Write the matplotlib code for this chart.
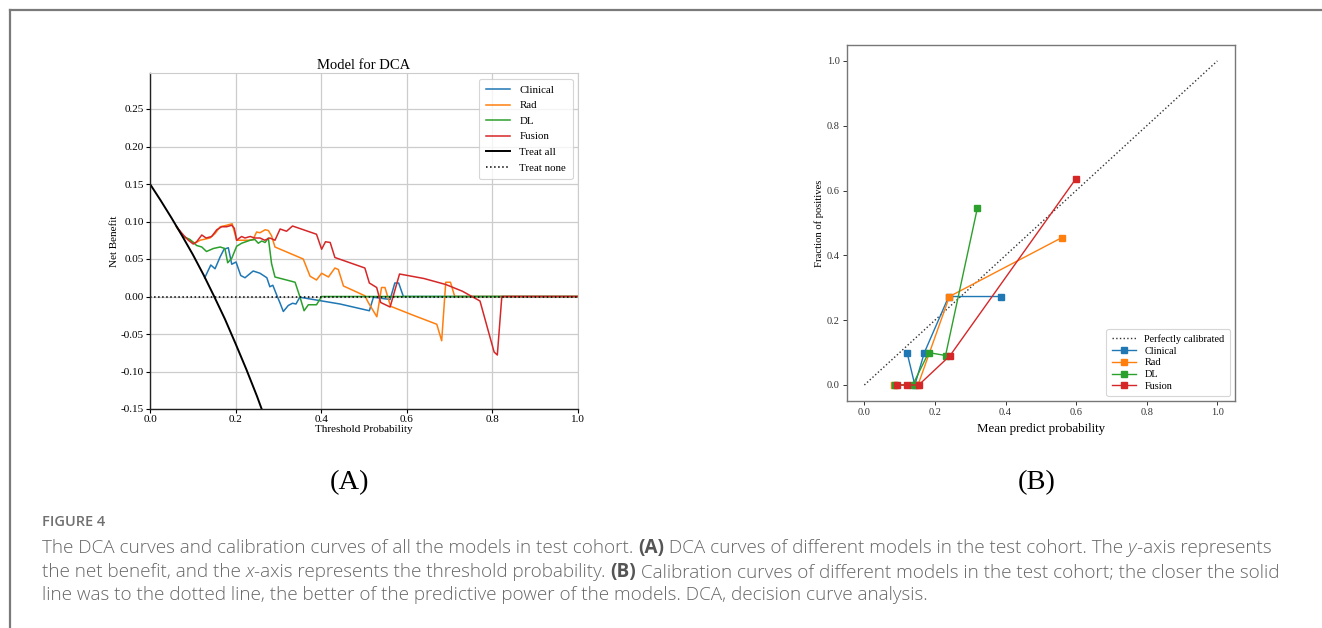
import matplotlib
matplotlib.use("Agg")
import matplotlib.pyplot as plt
from matplotlib.lines import Line2D

W, H = 1322, 628
plt.rcParams['font.family'] = ['Liberation Serif', 'DejaVu Serif']
plt.rcParams['axes.unicode_minus'] = False

# ---------------- DCA data ----------------
clin_x = [0.128, 0.142, 0.152, 0.164, 0.173, 0.183, 0.191, 0.201, 0.212, 0.222, 0.241, 0.257,
          0.273, 0.280, 0.287, 0.296, 0.304, 0.3115, 0.323, 0.333, 0.341, 0.350, 0.444, 0.5125,
          0.522, 0.561, 0.572, 0.581, 0.592, 1.0]
clin_y = [0.025, 0.042, 0.037, 0.053, 0.063, 0.065, 0.043, 0.046, 0.028, 0.025, 0.034, 0.031,
          0.025, 0.013, 0.015, 0.002, -0.009, -0.020, -0.012, -0.009, -0.010, -0.001, -0.010, -0.019,
          -0.001, -0.004, 0.018, 0.018, 0.0, 0.0]

rad_x = [0.062, 0.078, 0.0935, 0.105, 0.117, 0.140, 0.152, 0.164, 0.179, 0.192, 0.2025, 0.230,
         0.241, 0.249, 0.257, 0.269, 0.2765, 0.284, 0.292, 0.358, 0.374, 0.389, 0.401, 0.417,
         0.432, 0.440, 0.452, 0.502, 0.510, 0.530, 0.541, 0.549, 0.562, 0.615, 0.670, 0.6815,
         0.691, 0.702, 0.712, 1.0]
rad_y = [0.093, 0.080, 0.075, 0.071, 0.075, 0.078, 0.084, 0.093, 0.095, 0.097, 0.075, 0.075,
         0.076, 0.086, 0.085, 0.089, 0.088, 0.081, 0.066, 0.050, 0.027, 0.022, 0.031, 0.026,
         0.038, 0.036, 0.014, 0.001, -0.008, -0.027, 0.012, 0.012, -0.013, -0.025, -0.037, -0.059,
         0.019, 0.019, 0.0, 0.0]

dl_x = [0.062, 0.078, 0.0935, 0.109, 0.121, 0.132, 0.148, 0.164, 0.175, 0.1815, 0.191, 0.2025,
        0.214, 0.234, 0.245, 0.253, 0.261, 0.269, 0.2765, 0.284, 0.292, 0.319, 0.339, 0.350,
        0.360, 0.370, 0.389, 0.401, 1.0]
dl_y = [0.093, 0.080, 0.076, 0.068, 0.066, 0.060, 0.064, 0.066, 0.064, 0.045, 0.051, 0.067,
        0.071, 0.075, 0.076, 0.071, 0.074, 0.072, 0.078, 0.044, 0.026, 0.022, 0.019, 0.000,
        -0.019, -0.011, -0.011, 0.000, 0.0]

fus_x = [0.062, 0.078, 0.0896, 0.101, 0.109, 0.121, 0.131, 0.144, 0.156, 0.1675, 0.179, 0.191,
         0.197, 0.2025, 0.214, 0.222, 0.234, 0.245, 0.257, 0.268, 0.280, 0.292, 0.304, 0.319,
         0.333, 0.389, 0.401, 0.410, 0.421, 0.432, 0.502, 0.5125, 0.5296, 0.539, 0.561, 0.583,
         0.640, 0.691, 0.730, 0.752, 0.771, 0.804, 0.8115, 0.822, 1.0]
fus_y = [0.093, 0.082, 0.075, 0.070, 0.073, 0.082, 0.078, 0.080, 0.089, 0.093, 0.093, 0.095,
         0.091, 0.075, 0.080, 0.078, 0.080, 0.078, 0.078, 0.075, 0.078, 0.075, 0.090, 0.087,
         0.094, 0.083, 0.063, 0.073, 0.072, 0.052, 0.038, 0.018, 0.012, -0.008, -0.014, 0.030,
         0.024, 0.016, 0.007, 0.000, -0.006, -0.074, -0.078, 0.0, 0.0]

all_x = [0.0, 0.025, 0.05, 0.075, 0.10, 0.125, 0.15, 0.175, 0.20, 0.225, 0.25, 0.275]
all_y = [0.150, 0.128, 0.105, 0.081, 0.056, 0.029, 0.000, -0.030, -0.063, -0.097, -0.133, -0.172]

none_x = [0.0, 1.0]
none_y = [0.0, 0.0]

# ---------------- Calibration data ----------------
cal_clin_x = [0.121, 0.143, 0.170, 0.239, 0.388]
cal_clin_y = [0.100, 0.000, 0.100, 0.273, 0.273]
cal_rad_x = [0.084, 0.152, 0.241, 0.560]
cal_rad_y = [0.000, 0.000, 0.273, 0.455]
cal_dl_x = [0.087, 0.137, 0.182, 0.230, 0.320]
cal_dl_y = [0.000, 0.000, 0.100, 0.091, 0.545]
cal_fus_x = [0.093, 0.120, 0.154, 0.243, 0.599]
cal_fus_y = [0.000, 0.000, 0.000, 0.091, 0.636]
perfect = [0.0, 1.0]

labels = ['Clinical', 'Rad', 'DL', 'Fusion']
colors = ['#1f77b4', '#ff7f0e', '#2ca02c', '#d62728']

fig = plt.figure(figsize=(W / 100, H / 100), dpi=100)
fig.patch.set_facecolor('white')

def ax_rect(l, t, r, b):
    return [l / W, 1 - b / H, (r - l) / W, (b - t) / H]

# ---------------- Panel A ----------------
axA = fig.add_axes(ax_rect(150, 73.3, 578, 409))
for xs, ys, lab, c in zip([clin_x, rad_x, dl_x, fus_x], [clin_y, rad_y, dl_y, fus_y], labels, colors):
    axA.plot(xs, ys, color=c, lw=1.1, label=lab)
axA.plot(all_x, all_y, color='black', lw=1.4, label='Treat all')
axA.plot(none_x, none_y, color='black', lw=1.1, ls=':', label='Treat none')
axA.set_xlim(0, 1)
axA.set_ylim(-0.15, 0.2976)
axA.set_xticks([0.0, 0.2, 0.4, 0.6, 0.8, 1.0])
axA.set_xticklabels(['0.0', '0.2', '0.4', '0.6', '0.8', '1.0'])
yt = [-0.15, -0.10, -0.05, 0.00, 0.05, 0.10, 0.15, 0.20, 0.25]
axA.set_yticks(yt)
axA.set_yticklabels(['%.2f' % v for v in yt])
axA.grid(True, color='#cccccc', lw=0.9)
axA.set_axisbelow(True)
axA.tick_params(labelsize=8, length=3, width=0.8, pad=1.5)
for s in ['top', 'right']:
    axA.spines[s].set_color('#cccccc')
for s in ['left', 'bottom']:
    axA.spines[s].set_color('#222222')
    axA.spines[s].set_linewidth(1.0)
axA.set_title('Model for DCA', fontsize=10.5, pad=3)
axA.set_xlabel('Threshold Probability', fontsize=8, labelpad=0.5)
axA.set_ylabel('Net Benefit', fontsize=8, labelpad=1)
legA = axA.legend(loc='upper right', fontsize=7.8, frameon=True, fancybox=True,
                  edgecolor='#cccccc', handlelength=2.2, labelspacing=0.55,
                  borderpad=0.6, handletextpad=0.9)
legA.get_frame().set_linewidth(0.8)

# ---------------- Panel B ----------------
axB = fig.add_axes(ax_rect(846.7, 44.7, 1235, 401.2))
axB.plot(perfect, perfect, ls=':', color='#333333', lw=1.0, label='Perfectly calibrated')
for xs, ys, lab, c in zip([cal_clin_x, cal_rad_x, cal_dl_x, cal_fus_x],
                          [cal_clin_y, cal_rad_y, cal_dl_y, cal_fus_y], labels, colors):
    axB.plot(xs, ys, marker='s', ms=3.8, color=c, lw=1.0, label=lab)
axB.set_xlim(-0.05, 1.05)
axB.set_ylim(-0.05, 1.05)
ticks = [0.0, 0.2, 0.4, 0.6, 0.8, 1.0]
axB.set_xticks(ticks)
axB.set_xticklabels(['%.1f' % v for v in ticks])
axB.set_yticks(ticks)
axB.set_yticklabels(['%.1f' % v for v in ticks])
axB.tick_params(labelsize=7.5, length=3, width=0.7, colors='#333333', pad=2)
for s in axB.spines.values():
    s.set_color('#777777')
    s.set_linewidth(1.0)
axB.set_xlabel('Mean predict probability', fontsize=9.3, labelpad=4)
axB.set_ylabel('Fraction of positives', fontsize=7.7, labelpad=2)
legB = axB.legend(loc='lower right', fontsize=7.4, frameon=True, fancybox=True,
                  edgecolor='#cccccc', handlelength=2.4, labelspacing=0.25,
                  borderpad=0.5, handletextpad=0.8)
legB.get_frame().set_linewidth(0.8)

# ---------------- panel letters ----------------
fig.text(349 / W, 1 - 483 / H, '(A)', fontsize=20.5, ha='center', va='center')
fig.text(1037 / W, 1 - 483 / H, '(B)', fontsize=20.5, ha='center', va='center')

# ---------------- border ----------------
fig.add_artist(Line2D([10 / W, 10 / W], [1 - 10 / H, 0], color='#7a7a7a', lw=1.6,
                      transform=fig.transFigure))
fig.add_artist(Line2D([10 / W, 1], [1 - 10 / H, 1 - 10 / H], color='#7a7a7a', lw=1.6,
                      transform=fig.transFigure))

# ---------------- caption ----------------
cap_color = '#666666'
fig.text(42 / W, 1 - 522 / H, 'FIGURE 4', fontsize=10.5, color='#707070', ha='left', va='center',
         family=['Open Sans', 'DejaVu Sans'], fontweight='semibold', fontstretch='condensed')

renderer = fig.canvas.get_renderer()

def draw_runs(y_px, runs, size=13.6):
    x = 42.0
    for txt, kw in runs:
        t = fig.text(x / W, 1 - y_px / H, txt, fontsize=size, ha='left', va='center',
                     family=['Open Sans', 'DejaVu Sans'], **kw)
        bb = t.get_window_extent(renderer)
        x += bb.width

N = dict(color=cap_color, fontweight='light')
B = dict(color='#555555', fontweight='bold')
I = dict(color=cap_color, fontweight='light', fontstyle='italic')

draw_runs(548, [('The DCA curves and calibration curves of all the models in test cohort. ', N),
                ('(A)', B),
                (' DCA curves of different models in the test cohort. The ', N),
                ('y', I), ('-axis represents', N)])
draw_runs(572, [('the net benefit, and the ', N), ('x', I),
                ('-axis represents the threshold probability. ', N), ('(B)', B),
                (' Calibration curves of different models in the test cohort; the closer the solid', N)])
draw_runs(595, [('line was to the dotted line, the better of the predictive power of the models. '
                 'DCA, decision curve analysis.', N)])

fig.savefig('out.png', dpi=100, facecolor='white')
